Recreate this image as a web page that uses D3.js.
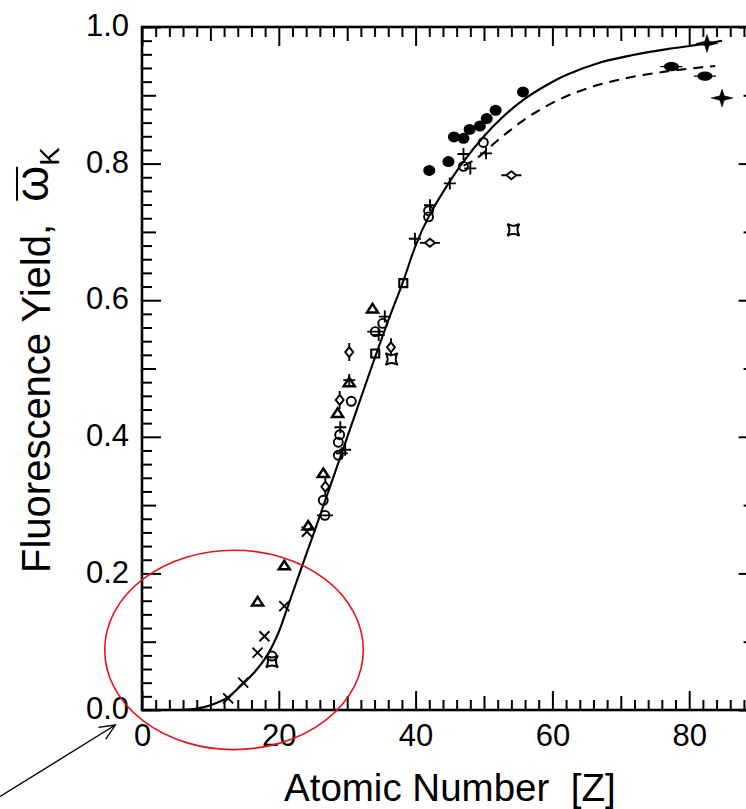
<!DOCTYPE html>
<html>
<head>
<meta charset="utf-8">
<script src="https://cdn.jsdelivr.net/npm/d3@7"></script>
<style>
  html, body { margin: 0; padding: 0; background: #fff; }
  svg { display: block; font-family: "Liberation Sans", Arial, Helvetica, sans-serif; }
</style>
</head>
<body>
<svg id="chart" width="746" height="809"></svg>
<script>
// K-shell fluorescence yield versus atomic number

// Fitted curve (solid) and alternative fit (dashed): [Z, yield]
const fitSolid = [
  [6, 0.000], [8, 0.002], [10, 0.007], [12.6, 0.019], [14.6, 0.037], [16.5, 0.056],
  [18.3, 0.080], [19.9, 0.112], [21.2, 0.148], [22.6, 0.188], [23.8, 0.222],
  [25.3, 0.264], [28.6, 0.359], [31.9, 0.454], [33.6, 0.503], [36.0, 0.570],
  [38.2, 0.628], [40.0, 0.680], [41.9, 0.722], [45.0, 0.774], [47.0, 0.803],
  [49.9, 0.839], [52.5, 0.866], [55.7, 0.893], [59.0, 0.914], [62.1, 0.930],
  [67.0, 0.948], [71.8, 0.959], [77.0, 0.968], [82.6, 0.976], [84.8, 0.980]
];
const fitDashed = [
  [47.0, 0.797], [48.7, 0.806], [52.6, 0.839], [57.2, 0.873], [63.1, 0.903],
  [69.4, 0.922], [76.7, 0.935], [83.8, 0.943]
];

// Measured values, one array per marker style: [Z, yield]
const crossPts = [[12.6, 0.017], [14.8, 0.040], [16.9, 0.084], [17.9, 0.108], [20.8, 0.152], [24.1, 0.261]];
const trianglePts = [[16.9, 0.159], [20.8, 0.212], [24.3, 0.270], [26.5, 0.347], [28.6, 0.435], [30.3, 0.480], [33.7, 0.588]];
const circlePts = [[19.0, 0.079], [26.5, 0.307], [28.9, 0.403], [28.7, 0.392], [28.7, 0.373], [30.6, 0.452],
  [35.2, 0.566], [41.9, 0.731], [41.9, 0.722], [47.0, 0.796], [49.9, 0.831]];
const thetaPts = [[26.75, 0.285], [34.1, 0.554]];
const vDiamondPts = [[26.8, 0.327], [28.9, 0.454], [30.3, 0.524], [36.4, 0.531]];
const hDiamondPts = [[42.1, 0.684], [54.0, 0.783]];
const plusPts = [[29.0, 0.414], [29.7, 0.381], [29.2, 0.376], [30.3, 0.483], [35.5, 0.576], [34.6, 0.549],
  [39.9, 0.690], [42.1, 0.739], [45.0, 0.771], [47.0, 0.814], [48.0, 0.793], [50.3, 0.815]];
const squarePts = [[34.1, 0.522], [38.2, 0.625]];
const openStarPts = [[19.0, 0.071], [36.5, 0.514], [54.3, 0.703]];
const dotPts = [[42.0, 0.790], [44.8, 0.803], [45.6, 0.839], [47.0, 0.837], [47.9, 0.850],
  [49.4, 0.855], [50.4, 0.866], [51.7, 0.878], [55.7, 0.905]];
const filledStarPts = [[82.6, 0.976], [84.8, 0.896]];
const filledOvalPts = [[77.4, 0.942], [82.3, 0.928]];

// Axis ticks
const xMajor = [0, 20, 40, 60, 80];
const xMedium = [10, 30, 50, 70];
const xMinor = d3.range(2, 90, 2).filter(v => v % 10 !== 0);
const yMajor = [0, 0.2, 0.4, 0.6, 0.8, 1.0];
const yMedium = [0.1, 0.3, 0.5, 0.7, 0.9];
const yMinor = d3.range(1, 50).map(i => i * 0.02).filter(v => Math.abs(v * 10 - Math.round(v * 10)) > 1e-6);

// Annotation: ellipse around the low-Z region and an arrow toward the origin (data units)
const ringCenter = [13.45, 0.088];
const ringRadii = [18.9, 0.146];
const arrowFrom = [-20.8, -0.127];
const arrowTo = [-3.9, -0.022];

const svg = d3.select("#chart");
const x = d3.scaleLinear().domain([0, 90]).range([142, 757.6]);
const y = d3.scaleLinear().domain([0, 1]).range([710, 27]);

const tickLen = { minor: 10, medium: 14, major: 19 };

function styleAxis(g) {
  g.select(".domain").remove();
  g.selectAll(".tick line").attr("stroke", "#000").attr("stroke-width", 2);
  g.selectAll(".tick text").attr("fill", "#000").attr("font-size", 31);
}

function addAxis(makeAxis, transform, values, len, labels, pad) {
  const ax = makeAxis.tickValues(values).tickSizeInner(-len).tickSizeOuter(0).tickPadding(pad || 0);
  ax.tickFormat(labels ? (d => d3.format(".1f")(d)) : (() => ""));
  const g = svg.append("g").attr("transform", transform).call(ax);
  styleAxis(g);
  return g;
}

// bottom
addAxis(d3.axisBottom(x), "translate(0,710)", xMinor, tickLen.minor, false);
addAxis(d3.axisBottom(x), "translate(0,710)", xMedium, tickLen.medium, false);
const gxb = addAxis(d3.axisBottom(x), "translate(0,710)", xMajor, tickLen.major, true, 14);
gxb.selectAll(".tick text").text(d => d3.format("d")(d));
// top
addAxis(d3.axisTop(x), "translate(0,27)", xMinor, tickLen.minor, false);
addAxis(d3.axisTop(x), "translate(0,27)", xMedium, tickLen.medium, false);
addAxis(d3.axisTop(x), "translate(0,27)", xMajor, tickLen.major, false);
// left
addAxis(d3.axisLeft(y), "translate(142,0)", yMinor, tickLen.minor, false);
addAxis(d3.axisLeft(y), "translate(142,0)", yMedium, tickLen.medium, false);
const gyl = addAxis(d3.axisLeft(y), "translate(142,0)", yMajor, tickLen.major, true, 13);
gyl.selectAll(".tick text").attr("dy", "0.28em");
// right
addAxis(d3.axisRight(y), "translate(757.6,0)", yMinor, tickLen.minor, false);
addAxis(d3.axisRight(y), "translate(757.6,0)", yMedium, tickLen.medium, false);
addAxis(d3.axisRight(y), "translate(757.6,0)", yMajor, tickLen.major, false);

// frame
svg.append("rect")
  .attr("x", x(0)).attr("y", y(1))
  .attr("width", x(90) - x(0)).attr("height", y(0) - y(1))
  .attr("fill", "none").attr("stroke", "#000").attr("stroke-width", 2.6);

// fit curves
const line = d3.line().x(d => x(d[0])).y(d => y(d[1])).curve(d3.curveCatmullRom.alpha(0.5));
svg.append("path").attr("d", line(fitSolid))
  .attr("fill", "none").attr("stroke", "#000").attr("stroke-width", 2.1);
svg.append("path").attr("d", line(fitDashed))
  .attr("fill", "none").attr("stroke", "#000").attr("stroke-width", 2.1)
  .attr("stroke-dasharray", "10,7");

// marker shapes centred on the origin
const shapes = {
  cross: { d: "M-5,-5L5,5M-5,5L5,-5", fill: "none", sw: 1.9 },
  plus: { d: "M-6,0H6M0,-6V6", fill: "none", sw: 1.9 },
  triangle: { d: "M0,-4.5L5.5,4L-5.5,4Z", fill: "none", sw: 2.5 },
  circle: { d: "M-4.5,0A4.5,4.5 0 1,0 4.5,0A4.5,4.5 0 1,0 -4.5,0Z", fill: "none", sw: 1.9 },
  theta: { d: "M-4.5,0A4.5,4.5 0 1,0 4.5,0A4.5,4.5 0 1,0 -4.5,0ZM-8,0H8", fill: "none", sw: 1.9 },
  vDiamond: { d: "M0,-5L4,0L0,5L-4,0ZM0,-5V-9M0,5V9", fill: "none", sw: 1.9 },
  hDiamond: { d: "M-5,0L0,-4L5,0L0,4ZM-5,0H-10M5,0H10", fill: "none", sw: 1.9 },
  square: { d: "M-4,-4H4V4H-4Z", fill: "none", sw: 2.1 },
  openStar: { d: "M-6,-6Q0,-2 6,-6Q2,0 6,6Q0,2 -6,6Q-2,0 -6,-6Z", fill: "none", sw: 1.9 },
  dot: { d: "M-6,0A6,5.5 0 1,0 6,0A6,5.5 0 1,0 -6,0Z", fill: "#000", sw: 0 },
  filledStar: { d: "M0,-9L2.2,-2.2L11,0L2.2,2.2L0,9L-2.2,2.2L-11,0L-2.2,-2.2Z", fill: "#000", sw: 0.5 },
  filledOval: { d: "M-7,0A7,4 0 1,0 7,0A7,4 0 1,0 -7,0ZM-11,0H11", fill: "#000", sw: 1.2 }
};

function plotMarkers(data, shape) {
  const s = shapes[shape];
  svg.append("g").selectAll("path").data(data).join("path")
    .attr("transform", d => `translate(${x(d[0])},${y(d[1])})`)
    .attr("d", s.d)
    .attr("fill", s.fill)
    .attr("stroke", "#000")
    .attr("stroke-width", s.sw);
}

plotMarkers(crossPts, "cross");
plotMarkers(trianglePts, "triangle");
plotMarkers(circlePts, "circle");
plotMarkers(thetaPts, "theta");
plotMarkers(vDiamondPts, "vDiamond");
plotMarkers(hDiamondPts, "hDiamond");
plotMarkers(plusPts, "plus");
plotMarkers(squarePts, "square");
plotMarkers(openStarPts, "openStar");
plotMarkers(dotPts, "dot");
plotMarkers(filledStarPts, "filledStar");
plotMarkers(filledOvalPts, "filledOval");

// axis titles
svg.append("text")
  .attr("x", (x(0) + x(90)) / 2).attr("y", 801)
  .attr("text-anchor", "middle").attr("font-size", 38.5).attr("fill", "#000")
  .style("white-space", "pre")
  .text("Atomic Number  [Z]");

const yTitle = svg.append("g").attr("transform", "translate(50,573) rotate(-90)");
const yText = yTitle.append("text")
  .attr("x", 0).attr("y", 0)
  .attr("font-size", 40).attr("fill", "#000")
  .style("white-space", "pre");
const lead = "Fluorescence Yield,  ";
yText.append("tspan").text(lead);
yText.append("tspan").attr("font-size", 46).attr("dy", -2).text("ω");
yText.append("tspan").attr("font-size", 28).attr("dy", 11).text("K");
// bar over omega
{
  const p0 = yText.node().getStartPositionOfChar(lead.length);
  const p1 = yText.node().getEndPositionOfChar(lead.length);
  yTitle.append("line")
    .attr("x1", p0.x + 1).attr("x2", p1.x - 1)
    .attr("y1", -33).attr("y2", -33)
    .attr("stroke", "#000").attr("stroke-width", 2);
}

// annotation
svg.append("ellipse")
  .attr("cx", x(ringCenter[0])).attr("cy", y(ringCenter[1]))
  .attr("rx", x(ringRadii[0]) - x(0)).attr("ry", y(0) - y(ringRadii[1]))
  .attr("fill", "none").attr("stroke", "#e8141c").attr("stroke-width", 1.6);

const ax0 = x(arrowFrom[0]), ay0 = y(arrowFrom[1]);
const ax1 = x(arrowTo[0]), ay1 = y(arrowTo[1]);
const ang = Math.atan2(ay1 - ay0, ax1 - ax0);
const head = 17, spread = 0.42;
svg.append("path")
  .attr("d", `M${ax0},${ay0}L${ax1},${ay1}` +
    `M${ax1 - head * Math.cos(ang - spread)},${ay1 - head * Math.sin(ang - spread)}L${ax1},${ay1}` +
    `L${ax1 - head * Math.cos(ang + spread)},${ay1 - head * Math.sin(ang + spread)}`)
  .attr("fill", "none").attr("stroke", "#000").attr("stroke-width", 1.4);
</script>
</body>
</html>
